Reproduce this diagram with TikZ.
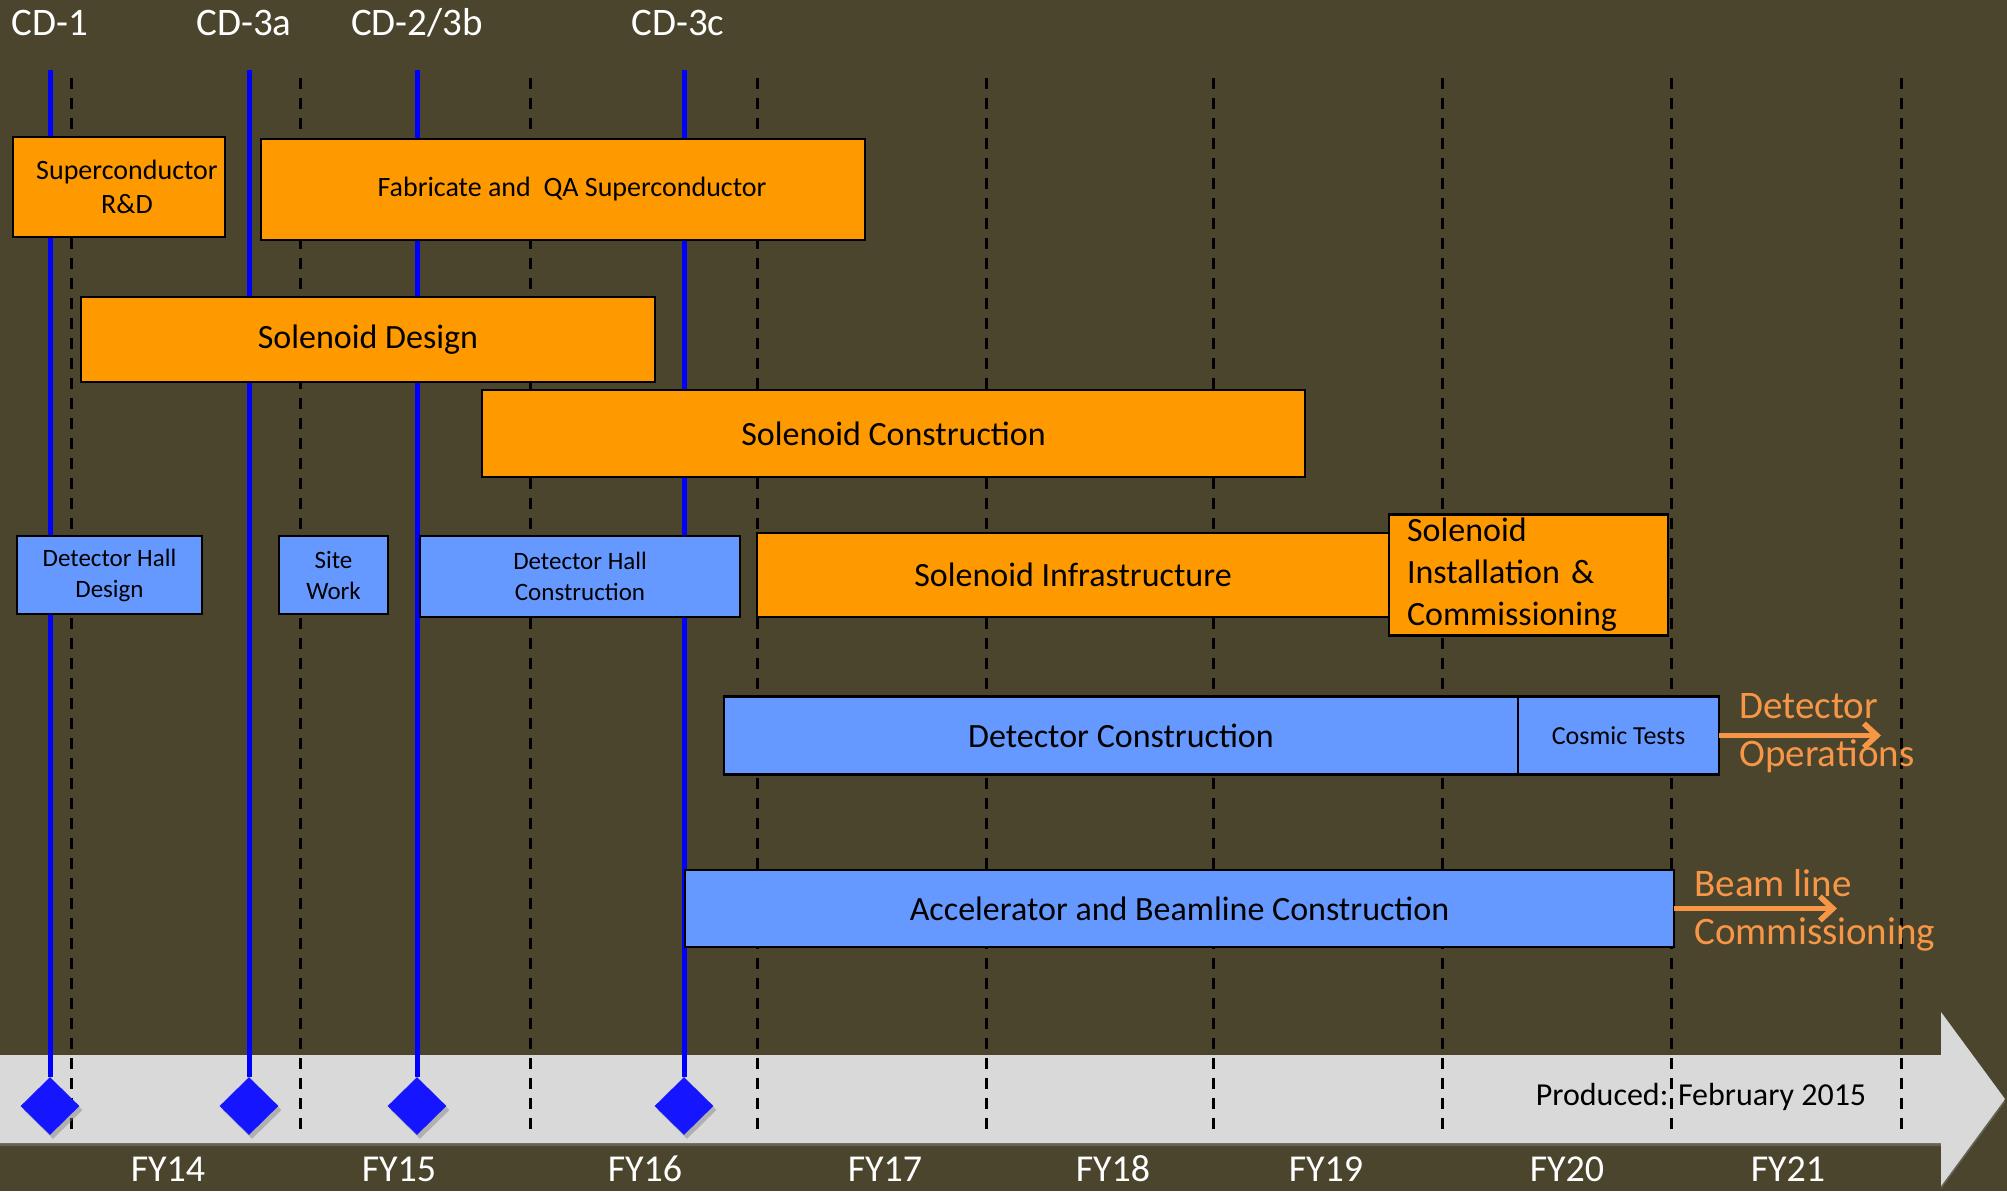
\documentclass[tikz,border=0pt]{standalone}
\usepackage{fontspec}
\setmainfont{Carlito}
\usetikzlibrary{positioning,shapes.geometric,shadows,arrows.meta}

\definecolor{bgbrown}{RGB}{74,69,44}
\definecolor{bandgray}{RGB}{217,217,217}
\definecolor{barorange}{RGB}{255,153,0}
\definecolor{barblue}{RGB}{102,153,255}
\definecolor{cdblue}{RGB}{0,0,255}
\definecolor{mdblue}{RGB}{21,21,255}
\definecolor{goorange}{RGB}{247,150,70}

\begin{document}
\begin{tikzpicture}[x=0.5pt,y=-0.5pt,
rect/.style={
draw=black,
line width=1.4pt,
outer sep=0pt,
inner sep=2pt,
align=center
},
obar/.style={rect,fill=barorange},
bbar/.style={rect,fill=barblue},
fsmall/.style={font=\fontsize{14pt}{17pt}\selectfont},
ftiny/.style={font=\fontsize{12.5pt}{15.5pt}\selectfont},
fbig/.style={font=\fontsize{17pt}{21pt}\selectfont},
milestone/.style={diamond,fill=mdblue,inner sep=0pt,minimum width=29.5pt,minimum height=29pt,
  drop shadow={shadow xshift=1.5pt,shadow yshift=-2pt,opacity=0.45}},
cdline/.style={draw=cdblue,line width=2.5pt},
fyline/.style={draw=black,line width=1.5pt,dash pattern=on 5.5pt off 4.5pt},
cdlabel/.style={text=white,font=\fontsize{19.5pt}{23pt}\selectfont},
fylabel/.style={text=white,font=\fontsize{19pt}{22pt}\selectfont},
golabel/.style={text=goorange,align=left,anchor=west,inner sep=0pt,font=\fontsize{19.5pt}{24pt}\selectfont},
goarrow/.style={draw=goorange,line width=2.8pt,-{Straight Barb[length=6.5pt,width=12pt]}}
]
\fill[bgbrown] (0,0) rectangle (2007,1191);
\useasboundingbox (0,0) rectangle (2007,1191);

% time axis
\fill[bandgray,drop shadow={shadow xshift=0pt,shadow yshift=-1.5pt,opacity=0.5}]
  (0,1055) -- (1941,1055) -- (1941,1012) -- (2005,1099) -- (1941,1186) -- (1941,1143) -- (0,1143) -- cycle;

\foreach \x in {71,300,530,757,986,1213,1442,1671,1901}
  \draw[fyline] (\x,78) -- (\x,1133);

\foreach \x/\fy in {168/FY14,399/FY15,645/FY16,885/FY17,1113/FY18,1326/FY19,1567/FY20,1788/FY21}
  \node[fylabel] (\fy) at (\x,1169) {\fy};

\node[font=\fontsize{16pt}{19pt}\selectfont] (produced) at (1701,1097) {Produced: February 2015};

% milestones
\node[cdlabel] (cd1) at (50,23) {CD-1};
\node[cdlabel] (cd3a) at (244,23) {CD-3a};
\node[cdlabel] (cd2) at (417,23) {CD-2/3b};
\node[cdlabel] (cd3c) at (678,23) {CD-3c};

\foreach \x/\n in {50/m1,249/m2,417/m3,684/m4} {
  \node[milestone] (\n) at (\x,1106) {};
  \coordinate (\n top) at (\x,70);
  \draw[cdline] (\n top) -- (\n.north);
}

% solenoid
\node[obar,fsmall,minimum width=106pt,minimum height=50pt] (scrd) at (119,187) {\hspace*{8pt}Superconductor\\\hspace*{8pt}R\&D};
\node[obar,fsmall,minimum width=302pt,minimum height=50.5pt] (fabqa) at (563,189.5) {\hspace*{9pt}Fabricate and\ \ QA Superconductor};
\node[obar,fbig,minimum width=287pt,minimum height=42.5pt] (soldes) at (368,339.5) {Solenoid Design};
\node[obar,fbig,minimum width=411.5pt,minimum height=43.5pt] (solcon) at (893.5,433.5) {Solenoid Construction};
\node[obar,fbig,minimum width=316pt,minimum height=42pt] (solinf) at (1073,575) {Solenoid Infrastructure};
\node[obar,fbig,align=left,inner xsep=9pt,text width=121.5pt,minimum height=60pt,right=0pt of solinf] (solins)
  {Solenoid\\Installation~\&\\Commissioning};

% hall
\node[bbar,ftiny,minimum width=92.5pt,minimum height=39pt] (hdes) at (109.5,575) {Detector Hall\\Design};
\node[bbar,ftiny,minimum width=54.5pt,minimum height=39pt] (site) at (333.5,575) {Site\\Work};
\node[bbar,ftiny,minimum width=160pt,minimum height=40.5pt] (hcon) at (580,576.5) {Detector Hall\\Construction};

% detector and beamline
\node[bbar,fbig,minimum width=397pt,minimum height=39pt] (detcon) at (1121,735.5) {Detector Construction};
\node[bbar,font=\fontsize{13pt}{16pt}\selectfont,minimum width=100.5pt,minimum height=39pt,right=0pt of detcon] (cosmic) {Cosmic Tests};
\node[bbar,fbig,minimum width=494.5pt,minimum height=38.5pt] (accel) at (1179.5,908.5) {Accelerator and Beamline Construction};

\node[golabel] (detops) at (1739,733) {Detector\\Operations};
\node[golabel] (bmcomm) at (1694,910) {Beam line\\Commissioning};
\coordinate (opsend) at (1881,735.5);
\coordinate (bmend) at (1837,908.5);
\draw[goarrow] (cosmic.east) -- (opsend);
\draw[goarrow] (accel.east) -- (bmend);

\end{tikzpicture}
\end{document}
